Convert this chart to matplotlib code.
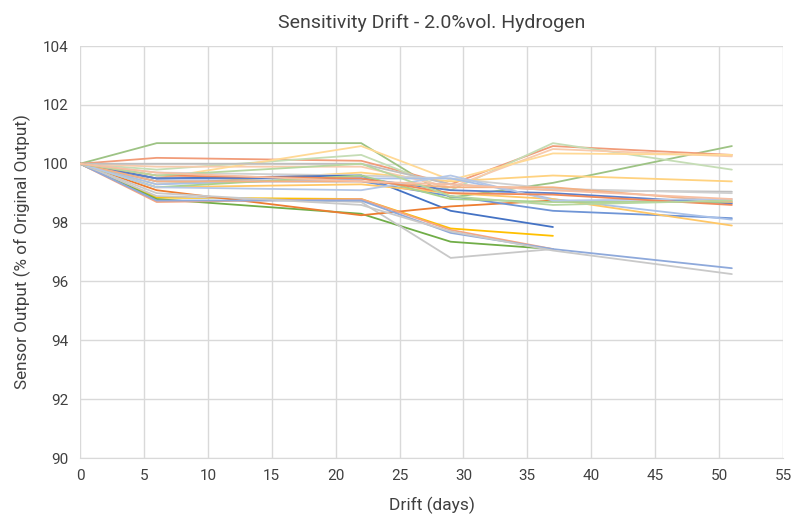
import numpy as np
import matplotlib
matplotlib.use("Agg")
from matplotlib import pyplot as plt

plt.rcParams['font.family'] = ['Roboto', 'DejaVu Sans']

days = [0, 6, 22, 29, 37, 51]
nan = np.nan

# one row per sensor (nan = no reading at day 51)
series_values = [
    [100, 100.7, 100.7, 98.85, 99.35, 100.6],
    [100, 100.2, 100.1, 99.3, 100.6, 100.3],
    [100, 99.8, 100.3, 99.1, 100.7, 99.8],
    [100, 99.9, 99.9, 99.2, 100.5, 100.25],
    [100, 99.5, 100.6, 99.45, 100.35, 100.3],
    [100, 99.3, 99.7, 99.4, 99.6, 99.4],
    [100, 100.0, 100.0, 99.3, 99.1, 99.05],
    [100, 99.7, 99.6, 99.5, 99.15, 99.0],
    [100, 99.5, 99.6, 98.4, 97.85, nan],
    [100, 98.85, 98.8, 97.8, 97.55, nan],
    [100, 98.8, 98.3, 97.35, 97.1, nan],
    [100, 98.9, 98.7, 96.8, 97.1, nan],
    [100, 99.1, 98.25, 98.55, 98.75, nan],
    [100, 98.7, 98.8, 97.75, 97.1, nan],
    [100, 98.75, 98.75, 97.65, 97.1, 96.45],
    [100, 99.0, 98.6, 97.7, 97.05, 96.25],
    [100, 99.4, 99.4, 98.9, 98.4, 98.15],
    [100, 99.3, 99.5, 99.5, 98.8, 98.1],
    [100, 99.2, 99.3, 99.0, 98.8, 97.9],
    [100, 99.5, 99.5, 99.1, 99.0, 98.65],
    [100, 99.2, 99.6, 98.8, 98.7, 98.7],
    [100, 99.4, 99.4, 99.2, 99.2, 98.7],
    [100, 99.2, 99.1, 99.6, 98.75, 98.8],
    [100, 99.6, 99.5, 99.0, 98.95, 98.6],
    [100, 99.6, 100.0, 98.9, 98.6, 98.75],
    [100, 99.7, 99.4, 99.3, 99.1, 98.8],
]

colors = [
    '#9dc384', '#f19c79', '#c5ddb5', '#f8cbad', '#ffd995', '#ffd27f',
    '#bfbfbf', '#d0d0d0', '#4472c4', '#ffc000', '#70ad47', '#c8c8c8',
    '#ed7d31', '#f4a582', '#8ea9db', '#c9c9c9', '#6f95d6', '#a9c1e8',
    '#ffc766', '#5a7fcb', '#a9d18e', '#f4b183', '#b4c7e7', '#f08a5a',
    '#b7d7a0', '#f6bfa3',
]

fig = plt.figure(figsize=(8.01, 5.20), dpi=100)
ax = fig.add_axes([0.0999, 0.1192, 0.8776, 0.7923])

for vals, c in zip(series_values, colors):
    ax.plot(days, vals, color=c, linewidth=1.3, solid_capstyle='round')

ax.set_xlim(0, 55)
ax.set_ylim(90, 104)
ax.set_xticks(range(0, 56, 5))
ax.set_yticks(range(90, 105, 2))
ax.grid(True, color='#d9d9d9', linewidth=1)
ax.set_axisbelow(True)
for s in ['top', 'right', 'left']:
    ax.spines[s].set_visible(False)
ax.spines['bottom'].set_color('#d9d9d9')
ax.tick_params(length=0, labelsize=11, colors='#404040', pad=8)

ax.set_title('Sensitivity Drift - 2.0%vol. Hydrogen', fontsize=14, color='#404040', pad=13)
ax.set_xlabel('Drift (days)', fontsize=12.5, color='#404040', labelpad=10)
ax.set_ylabel('Sensor Output (% of Original Output)', fontsize=12.3, color='#404040', labelpad=9)

fig.savefig('out.png', dpi=100)
